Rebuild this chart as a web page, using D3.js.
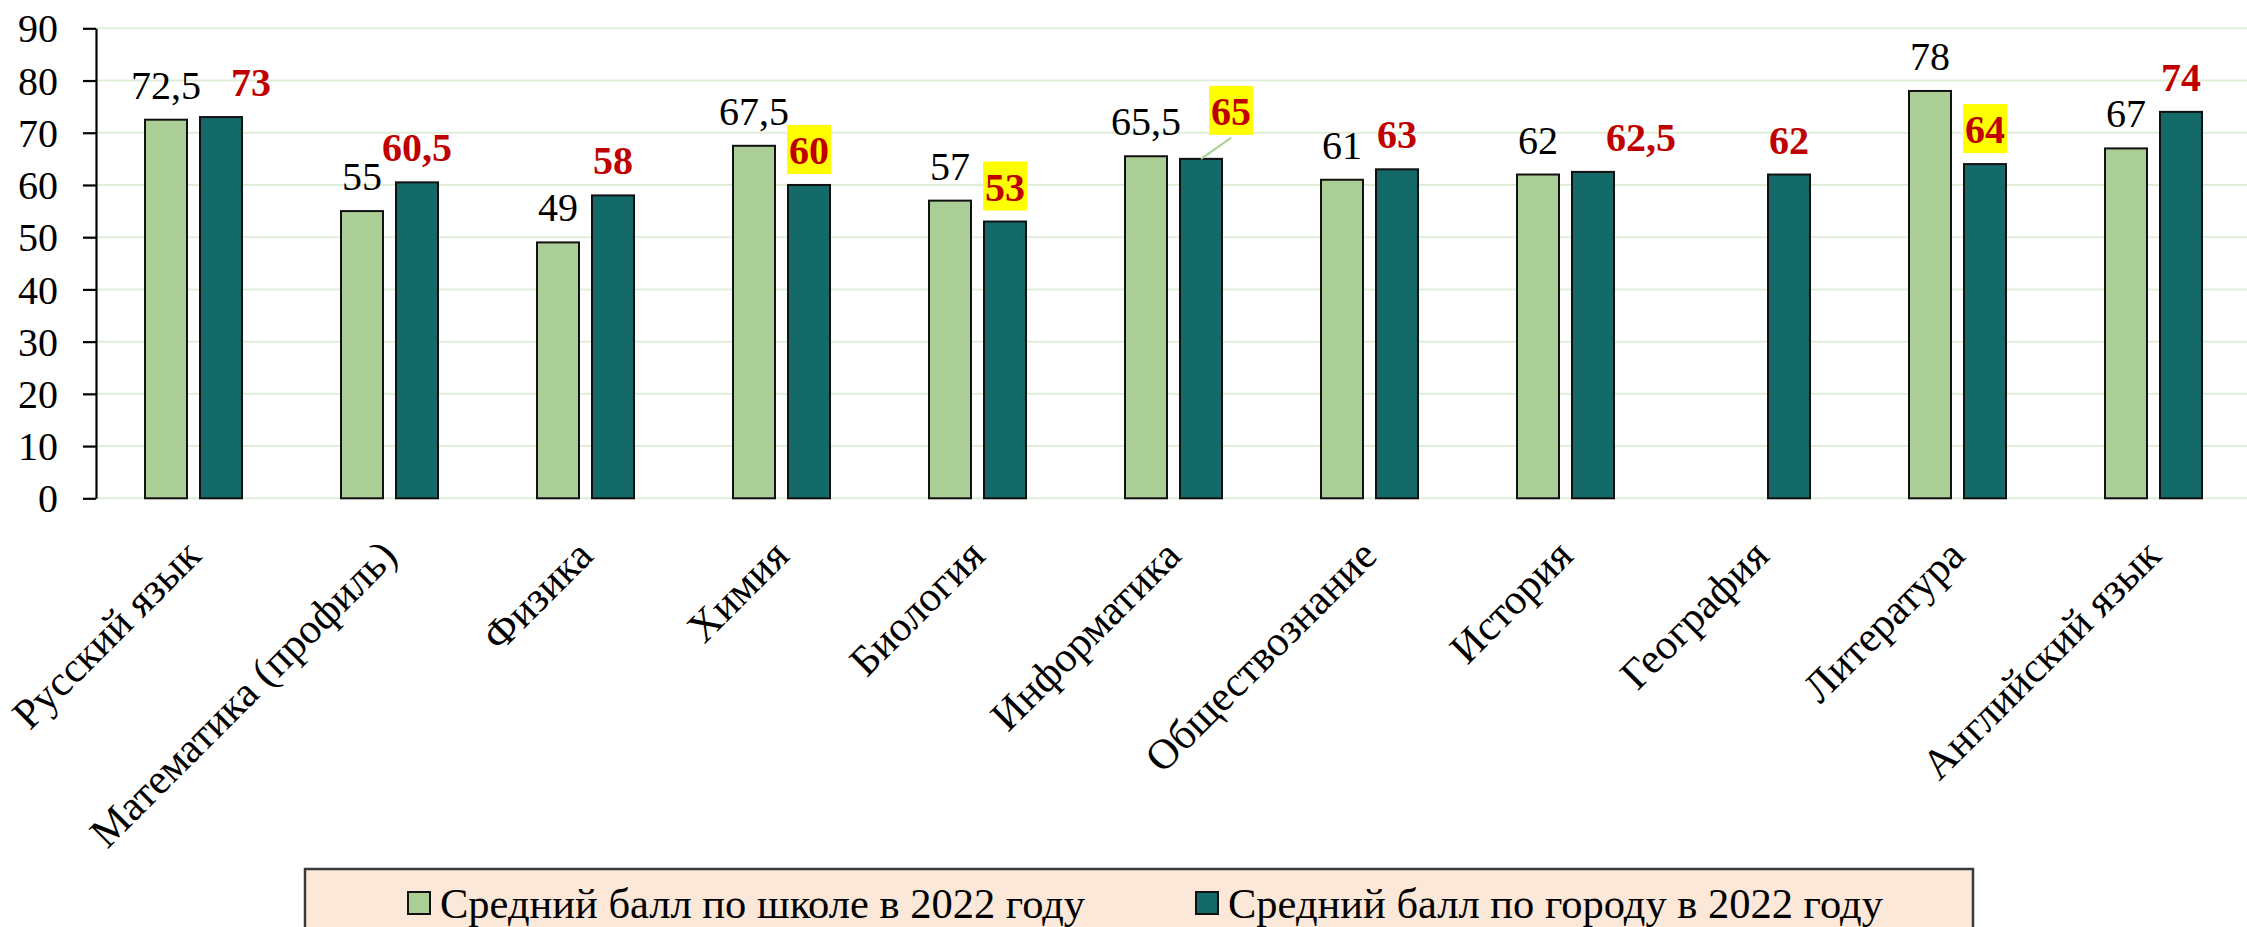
<!DOCTYPE html>
<html>
<head>
<meta charset="utf-8">
<script src="https://cdn.jsdelivr.net/npm/d3@7"></script>
<style>
  html, body { margin: 0; padding: 0; background: #ffffff; }
  svg { display: block; }
  svg text { font-family: "Liberation Serif", "Times New Roman", serif; }
</style>
</head>
<body>
<svg id="chart" width="2247" height="927"></svg>
<script>
// ---------------- data ----------------
const categories = ["Русский язык", "Математика (профиль)", "Физика", "Химия", "Биология",
  "Информатика", "Обществознание", "История", "География", "Литература", "Английский язык"];
const seriesNames = ["Средний балл по школе в 2022 году", "Средний балл по городу в 2022 году"];
const schoolScores = [72.5, 55, 49, 67.5, 57, 65.5, 61, 62, null, 78, 67];
const cityScores = [73, 60.5, 58, 60, 53, 65, 63, 62.5, 62, 64, 74];
const yTickValues = [0, 10, 20, 30, 40, 50, 60, 70, 80, 90];
const cityHighlighted = [false, false, false, true, true, true, false, false, false, true, false];

// ---------------- layout / style ----------------
const plot = { left: 96, right: 2252, top: 28.3, bottom: 498.3, gridRight: 2247 };
const colors = { school: "#ABCD96", city: "#136A69", grid: "#E0EED8", red: "#C00000", hl: "#FFFF00", leader: "#A9D08E" };
// manual nudges of city labels (dx, dy) as in the original
const cityLabelNudge = [[30, 0], [0, 0], [0, 0], [0, 0], [0, 0], [30, -13], [0, 0], [48, 0], [0, 0], [0, 0], [0, 0]];
const fmt = v => String(v).replace(".", ",");

const svg = d3.select("#chart");

const x0 = d3.scaleBand().domain(categories).range([plot.left, plot.right]).padding(0);
const x1 = d3.scaleBand().domain([0, 1]).range([48, 147]).paddingInner(0.2).paddingOuter(0);
const y = d3.scaleLinear().domain([0, 90]).range([plot.bottom, plot.top]);

// gridlines
svg.append("g").selectAll("line").data(yTickValues).join("line")
  .attr("x1", plot.left).attr("x2", plot.gridRight)
  .attr("y1", d => y(d)).attr("y2", d => y(d))
  .attr("stroke", colors.grid).attr("stroke-width", 2);

// bars
const series = [schoolScores, cityScores];
const fills = [colors.school, colors.city];
series.forEach((vals, si) => {
  svg.append("g").selectAll("rect")
    .data(vals.map((v, i) => ({ v, c: categories[i] })).filter(d => d.v != null))
    .join("rect")
    .attr("x", d => x0(d.c) + x1(si) + 1)
    .attr("width", x1.bandwidth() - 2)
    .attr("y", d => y(d.v))
    .attr("height", d => y(0) - y(d.v))
    .attr("fill", fills[si])
    .attr("stroke", "#111")
    .attr("stroke-width", 2);
});

// y axis
const yAxis = d3.axisLeft(y).tickValues(yTickValues).tickSize(13).tickSizeOuter(0).tickPadding(25).tickFormat(d3.format("d"));
const gy = svg.append("g").attr("transform", `translate(${plot.left},0)`).call(yAxis);
gy.attr("font-family", null).attr("font-size", null);
gy.select(".domain").attr("stroke", "#000").attr("stroke-width", 2.2);
gy.selectAll(".tick line").attr("stroke", "#000").attr("stroke-width", 2.2);
gy.selectAll(".tick text").attr("font-size", 40).attr("fill", "#000").attr("dy", "0.34em");

// x category labels
svg.append("g").selectAll("text").data(categories).join("text")
  .attr("transform", d => `translate(${x0(d) + x0.bandwidth() / 2 + 9},558) rotate(-45)`)
  .attr("text-anchor", "end")
  .attr("font-size", 42.5)
  .attr("fill", "#000")
  .text(d => d);

// school labels
svg.append("g").selectAll("text")
  .data(schoolScores.map((v, i) => ({ v, c: categories[i] })).filter(d => d.v != null))
  .join("text")
  .attr("x", d => x0(d.c) + x1(0) + x1.bandwidth() / 2)
  .attr("y", d => y(d.v) - 21)
  .attr("text-anchor", "middle")
  .attr("font-size", 40)
  .attr("fill", "#000")
  .text(d => fmt(d.v));

// city labels
const cityG = svg.append("g");
cityScores.forEach((v, i) => {
  const c = categories[i];
  const bx = x0(c) + x1(1) + x1.bandwidth() / 2;
  const lx = bx + cityLabelNudge[i][0];
  const ly = y(v) - 21 + cityLabelNudge[i][1];
  const g = cityG.append("g");
  const t = g.append("text")
    .attr("x", lx).attr("y", ly)
    .attr("text-anchor", "middle")
    .attr("font-size", 40)
    .attr("font-weight", "bold")
    .attr("fill", colors.red)
    .text(fmt(v));
  const tw = t.node().getComputedTextLength();
  if (cityHighlighted[i]) {
    g.insert("rect", "text")
      .attr("x", lx - tw / 2 - 2).attr("width", tw + 4)
      .attr("y", ly - 39).attr("height", 49)
      .attr("fill", colors.hl);
  }
  if (cityLabelNudge[i][1] !== 0) {
    g.append("line")
      .attr("x1", lx).attr("y1", ly + 13)
      .attr("x2", bx).attr("y2", y(v))
      .attr("stroke", colors.leader).attr("stroke-width", 2);
  }
});

// legend
const lg = svg.append("g");
lg.append("rect")
  .attr("x", 305).attr("y", 869).attr("width", 1668).attr("height", 90)
  .attr("fill", "#FCE8D8").attr("stroke", "#3a3a3a").attr("stroke-width", 2.5);
const legendX = [408, 1196];
seriesNames.forEach((name, i) => {
  lg.append("rect")
    .attr("x", legendX[i]).attr("y", 892).attr("width", 22).attr("height", 22)
    .attr("fill", fills[i]).attr("stroke", "#111").attr("stroke-width", 2);
  lg.append("text")
    .attr("x", legendX[i] + 32).attr("y", 918)
    .attr("font-size", 42.5).attr("fill", "#000")
    .text(name);
});
</script>
</body>
</html>
